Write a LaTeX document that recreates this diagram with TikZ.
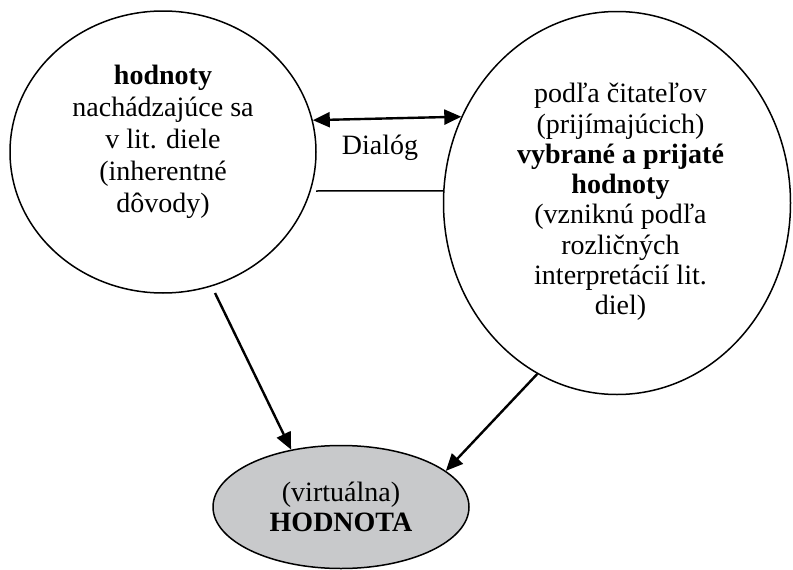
\documentclass[tikz,border=0pt]{standalone}
\usepackage{fontspec}
\setmainfont{Liberation Serif}
\usetikzlibrary{shapes.geometric,arrows.meta}
\definecolor{hgray}{RGB}{200,201,203}
\tikzset{
  bubble/.style={ellipse,draw=black,line width=1.5pt,inner sep=0pt},
  txt/.style={align=center,inner sep=0pt,font=\fontsize{28}{30.3}\selectfont},
  ltxt/.style={align=center,inner sep=0pt,font=\fontsize{28}{32}\selectfont},
  conn/.style={line width=2.4pt,-{Triangle[length=17pt,width=15pt]}},
  dconn/.style={line width=2.4pt,{Triangle[length=17pt,width=15pt]}-{Triangle[length=17pt,width=15pt]}},
  plain/.style={line width=1.5pt}
}
\begin{document}
\begin{tikzpicture}[x=1pt,y=-1pt]
\useasboundingbox (0,0) rectangle (793,570);
\node[bubble,minimum width=306pt,minimum height=282pt] (L) at (163,152) {};
\node[bubble,minimum width=347pt,minimum height=383pt] (R) at (617,203) {};
\node[bubble,fill=hgray,minimum width=256pt,minimum height=123pt,txt] (H) at (341,507) {(virtuálna)\\\textbf{HODNOTA}};
\node[ltxt] (Lt) at (163,142) {\textbf{hodnoty}\\nachádzajúce sa\\v lit. diele\\(inherentné\\dôvody)};
\node[txt] (Rt) at (620.5,202) {podľa čitateľov\\(prijímajúcich)\\\textbf{vybrané a prijaté}\\\textbf{hodnoty}\\(vzniknú podľa\\rozličných\\interpretácií lit.\\diel)};
\node[txt] (D) at (380,148) {Dialóg};
\coordinate (lineA) at (316,191);
\coordinate (arrA) at (215,293);
\draw[dconn] (L.12.9) -- (R.151.3);
\draw[plain] (lineA) -- (R.176);
\draw[conn] (arrA) -- (H.131.5);
\draw[conn] (R.245.8) -- (H.19.7);
\end{tikzpicture}
\end{document}
